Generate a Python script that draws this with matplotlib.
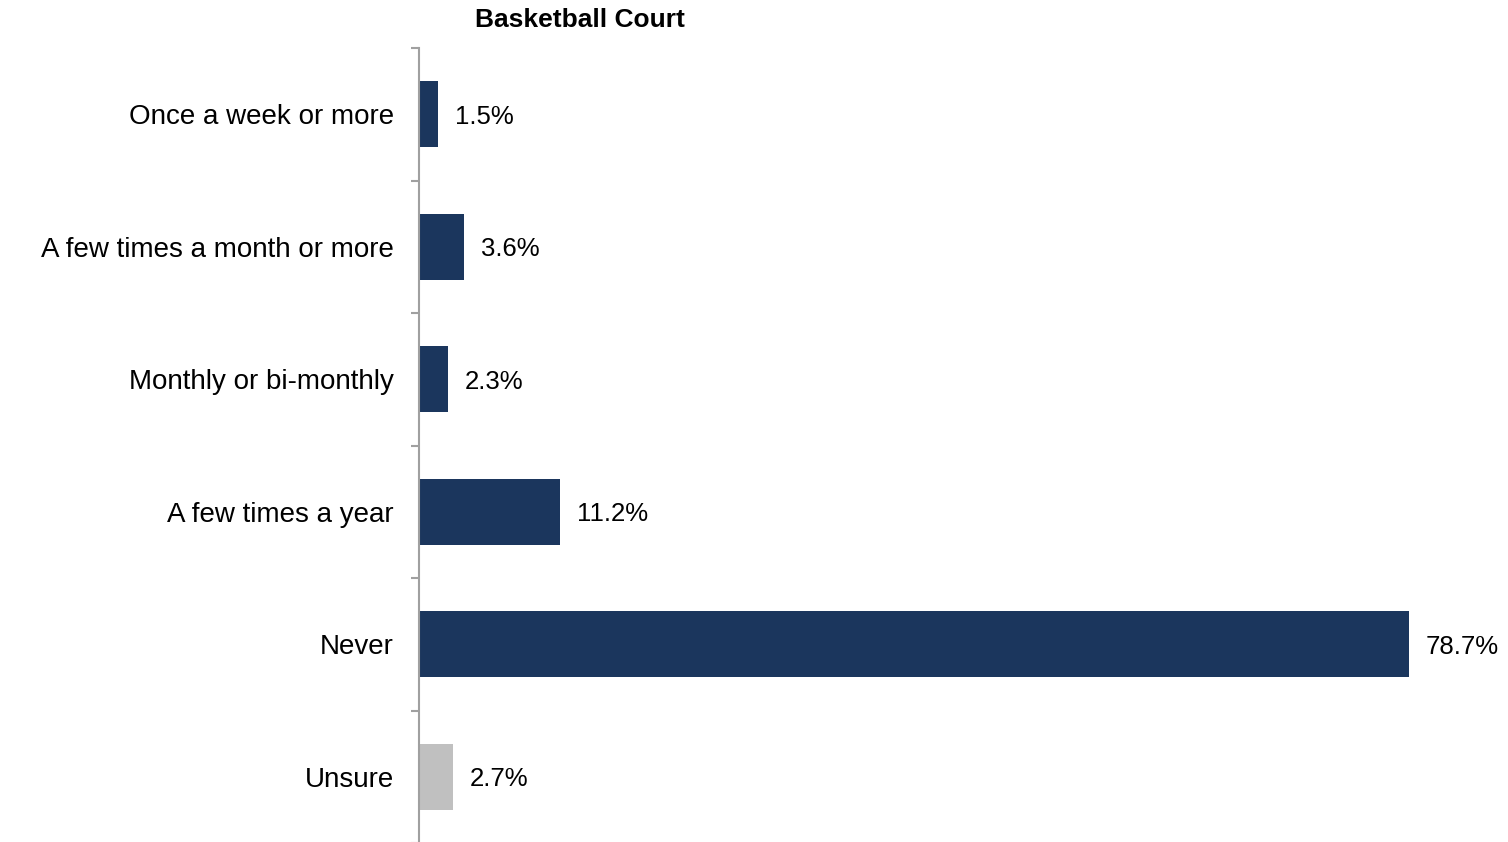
import matplotlib

matplotlib.use("Agg")
import matplotlib.pyplot as plt
import numpy as np

categories = [
    "Once a week or more",
    "A few times a month or more",
    "Monthly or bi-monthly",
    "A few times a year",
    "Never",
    "Unsure",
]
values = [1.5, 3.6, 2.3, 11.2, 78.7, 2.7]
bar_colors = ["#1B365D", "#1B365D", "#1B365D", "#1B365D", "#1B365D", "#C0C0C0"]

plt.rcParams["font.family"] = ["Liberation Sans", "DejaVu Sans"]

fig = plt.figure(figsize=(15.08, 8.42), dpi=100)
ax = fig.add_axes([419 / 1508, -1 / 842, 1 - 419 / 1508, (843 - 48) / 842])

y = np.arange(len(categories))
ax.barh(y, values, height=0.5, color=bar_colors)

for yi, v in zip(y, values):
    ax.annotate(f"{v:.1f}%", (v, yi), xytext=(12, 0), textcoords="offset points",
                va="center_baseline", ha="left", fontsize=18.5)

ax.set_xlim(0, 86.6)
ax.set_ylim(len(categories) - 0.5, -0.5)
ax.set_yticks(y)
ax.set_yticklabels(categories, fontsize=20, va="center_baseline")
ax.tick_params(axis="y", which="major", length=0, pad=18)
ax.set_yticks(np.arange(-0.5, len(categories), 1.0), minor=True)
ax.tick_params(axis="y", which="minor", length=6, width=1.5, color="#A0A0A0")
ax.set_xticks([])

for side in ["top", "right", "bottom"]:
    ax.spines[side].set_visible(False)
ax.spines["left"].set_color("#A0A0A0")
ax.spines["left"].set_linewidth(1.5)

fig.text(580 / 1508, 1 - 20 / 842, "Basketball Court", ha="center", va="center",
         fontsize=19, fontweight="bold")

fig.savefig("out.png", dpi=100)
